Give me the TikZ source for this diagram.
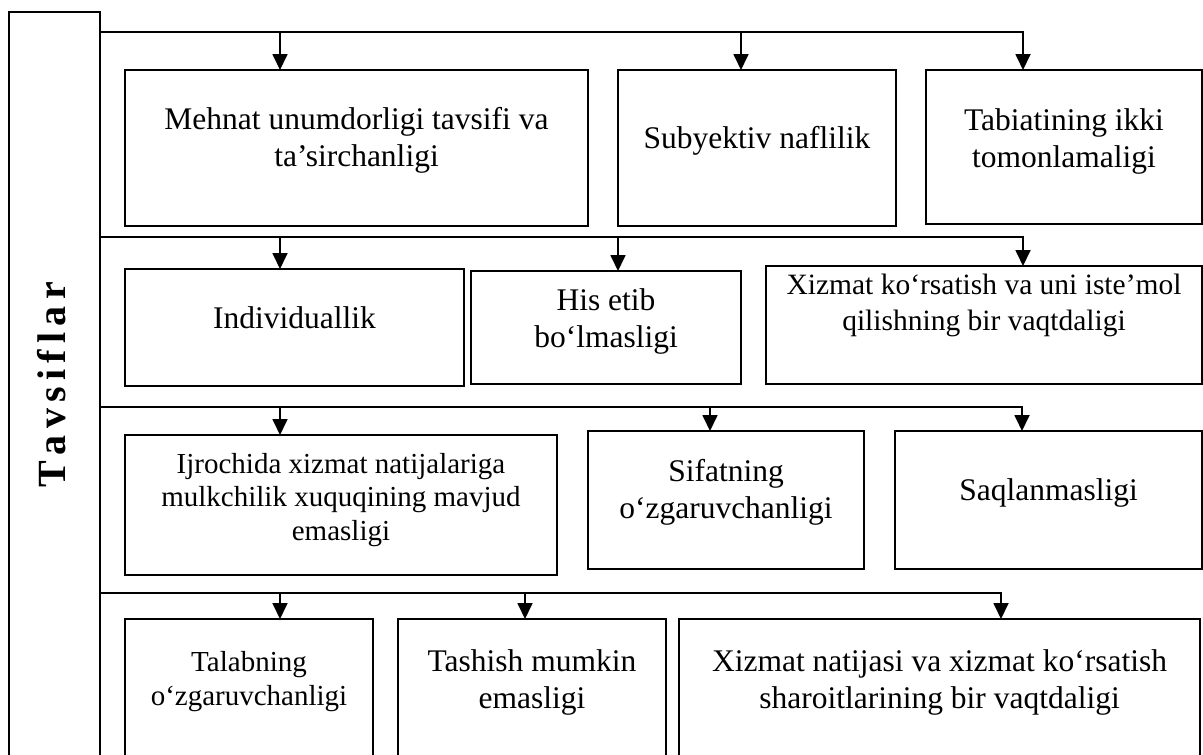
\documentclass[tikz,border=0pt]{standalone}
\usepackage{fontspec}
\setmainfont{Liberation Serif}
\usetikzlibrary{arrows.meta}
% a framed cell given by its corners (x1,y1) and (x2,y2)
\newcommand\cellbox[5]{%
  \node[cell, minimum width={#4-#2}, minimum height={#5-#3}] (#1)
    at ({(#2+#4)/2},{(#3+#5)/2}) {};}
\begin{document}
\begin{tikzpicture}[x=1pt,y=-1pt,
  cell/.style={draw, rectangle, line width=1.8pt, inner sep=0pt, outer sep=0pt},
  lbl/.style={align=center, inner sep=0pt, anchor=base,
    font=\fontsize{31.5}{37}\selectfont},
  lblsm/.style={lbl, font=\fontsize{29}{33.5}\selectfont},
  lblmd/.style={lbl, font=\fontsize{29.5}{36}\selectfont},
  arr/.style={line width=1.8pt, -{Triangle[width=15pt,length=16pt]}}]
\useasboundingbox (0,0) rectangle (1203,755);

% left title column
\cellbox{tav}{9}{12}{100}{800}
\node[rotate=90, anchor=base, inner sep=0pt,
  font=\fontsize{40}{40}\bfseries\selectfont] (tavtxt) at (65,385)
  {T\hspace{6.3pt}a\hspace{6.3pt}v\hspace{6.3pt}s\hspace{6.3pt}i\hspace{6.3pt}f\hspace{6.3pt}l\hspace{6.3pt}a\hspace{6.3pt}r};

% row 1
\cellbox{b11}{125}{70}{588}{226}
\cellbox{b12}{618}{70}{896}{226}
\cellbox{b13}{926}{70}{1202}{224}
% row 2
\cellbox{b21}{125}{269}{464}{386}
\cellbox{b22}{471}{271}{741}{384}
\cellbox{b23}{766}{266}{1202}{384}
% row 3
\cellbox{b31}{125}{435}{557}{575}
\cellbox{b32}{588}{431}{864}{569}
\cellbox{b33}{895}{431}{1202}{569}
% row 4
\cellbox{b41}{125}{619}{373}{800}
\cellbox{b42}{398}{619}{666}{800}
\cellbox{b43}{679}{619}{1200}{800}

% labels (placed by the baseline of their last line)
\node[lbl] (t11) at (356.5,166) {Mehnat unumdorligi tavsifi va\\ta’sirchanligi};
\node[lbl] (t12) at (757,148) {Subyektiv naflilik};
\node[lbl] (t13) at (1064,167) {Tabiatining ikki\\tomonlamaligi};
\node[lbl] (t21) at (294.5,328) {Individuallik};
\node[lbl] (t22) at (606,347) {His etib\\bo‘lmasligi};
\node[lblmd] (t23) at (984,330) {Xizmat ko‘rsatish va uni iste’mol\\qilishning bir vaqtdaligi};
\node[lblsm] (t31) at (341,540) {Ijrochida xizmat natijalariga\\mulkchilik xuquqining mavjud\\emasligi};
\node[lbl] (t32) at (726,518) {Sifatning\\o‘zgaruvchanligi};
\node[lbl] (t33) at (1048.5,500) {Saqlanmasligi};
\node[lblsm] (t41) at (249,705) {Talabning\\o‘zgaruvchanligi};
\node[lbl] (t42) at (532,708) {Tashish mumkin\\emasligi};
\node[lbl] (t43) at (939.5,708) {Xizmat natijasi va xizmat ko‘rsatish\\sharoitlarining bir vaqtdaligi};

% branch points on the buses
\coordinate (a11) at (280,32);  \coordinate (a12) at (741,32);  \coordinate (a13) at (1023,32);
\coordinate (a21) at (280,237); \coordinate (a22) at (618,237); \coordinate (a23) at (1023,237);
\coordinate (a31) at (280,407); \coordinate (a32) at (710,407); \coordinate (a33) at (1022,407);
\coordinate (a41) at (280,593); \coordinate (a42) at (525,593); \coordinate (a43) at (1001,593);

% buses with their arrows
\draw[arr] (tav.east |- a11) -- (a13) -- (a13 |- b13.north);
\draw[arr] (a11) -- (a11 |- b11.north);
\draw[arr] (a12) -- (a12 |- b12.north);

\draw[arr] (tav.east |- a21) -- (a23) -- (a23 |- b23.north);
\draw[arr] (a21) -- (a21 |- b21.north);
\draw[arr] (a22) -- (a22 |- b22.north);

\draw[arr] (tav.east |- a31) -- (a33) -- (a33 |- b33.north);
\draw[arr] (a31) -- (a31 |- b31.north);
\draw[arr] (a32) -- (a32 |- b32.north);

\draw[arr] (tav.east |- a41) -- (a43) -- (a43 |- b43.north);
\draw[arr] (a41) -- (a41 |- b41.north);
\draw[arr] (a42) -- (a42 |- b42.north);
\end{tikzpicture}
\end{document}
